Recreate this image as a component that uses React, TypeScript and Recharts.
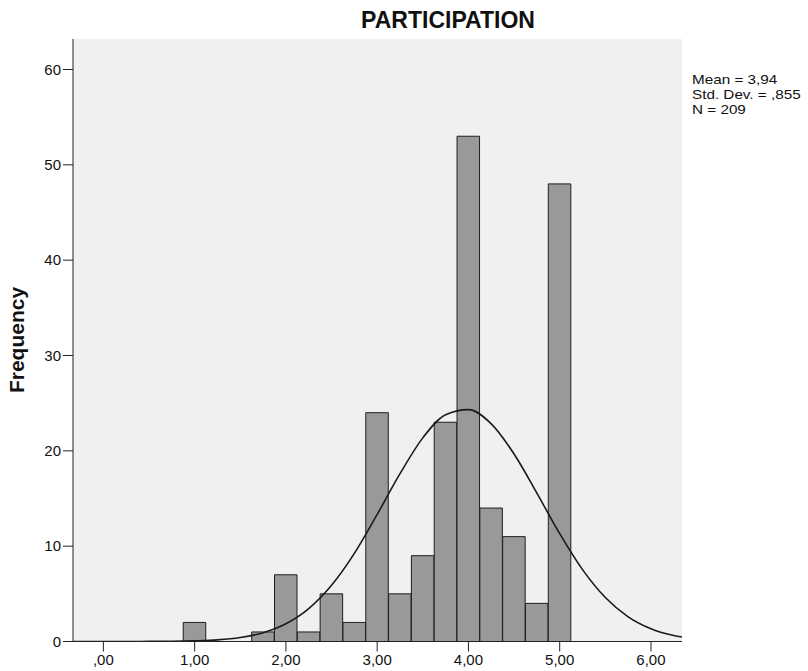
import { Bar, CartesianGrid, ComposedChart, Line, XAxis, YAxis } from 'recharts'

// histogram bins (width 0.25), centre of each bin and its count
const binCenters = [1.0, 1.75, 2.0, 2.25, 2.5, 2.75, 3.0, 3.25, 3.5, 3.75, 4.0, 4.25, 4.5, 4.75, 5.0]
const frequencies = [2, 1, 7, 1, 5, 2, 24, 5, 9, 23, 53, 14, 11, 4, 48]

// normal curve
const curveX = [-0.33, -0.25, 0, 0.25, 0.5, 0.75, 1.0, 1.25, 1.5, 1.75, 2.0, 2.25, 2.5, 2.75, 3.0, 3.25, 3.5, 3.75, 4.0, 4.25, 4.5, 4.75, 5.0, 5.25, 5.5, 5.75, 6.0, 6.25, 6.34]
const curveY = [0, 0, 0, 0, 0.01, 0.02, 0.07, 0.17, 0.42, 0.92, 1.86, 3.45, 5.9, 9.25, 13.33, 17.6, 21.36, 23.79, 24.32, 22.83, 19.67, 15.57, 11.31, 7.54, 4.61, 2.59, 1.34, 0.63, 0.47]

const xTicks = [0, 1, 2, 3, 4, 5, 6]
const yTicks = [0, 10, 20, 30, 40, 50, 60]
const stats = ['Mean = 3,94', 'Std. Dev. = ,855', 'N = 209']

const X_DOMAIN: [number, number] = [-0.333, 6.34]
const Y_DOMAIN: [number, number] = [0, 63.2]
const FONT = '"Liberation Sans", Arial, sans-serif'

const bars = binCenters.map((x, i) => ({ x, count: frequencies[i] }))
const curve = curveX.map((x, i) => ({ x, density: curveY[i] }))

const fmt = (v: number) => (v === 0 ? ',00' : `${v},00`)

export default function App() {
  return (
    <div style={{ position: 'relative', width: 808, height: 671, background: '#fff', fontFamily: FONT }}>
      <style>{'body{margin:0}'}</style>
      <div style={{ position: 'absolute', left: 448, top: 7, transform: 'translateX(-50%)', fontSize: 23, fontWeight: 'bold', color: '#111', whiteSpace: 'nowrap' }}>
        PARTICIPATION
      </div>
      <div style={{ position: 'absolute', left: 17, top: 340, transform: 'translate(-50%, -50%) rotate(-90deg)', fontSize: 21, fontWeight: 'bold', color: '#111', whiteSpace: 'nowrap' }}>
        Frequency
      </div>
      <div style={{ position: 'absolute', left: 692, top: 72, fontSize: 13.5, lineHeight: '15px', transform: 'scaleX(1.13)', transformOrigin: 'left top', color: '#111', whiteSpace: 'nowrap' }}>
        {stats.map((s) => (
          <div key={s}>{s}</div>
        ))}
      </div>
      <ComposedChart width={808} height={671} data={bars} margin={{ top: 39, right: 126, bottom: 0, left: 0 }}>
        <CartesianGrid fill="#f0f0f0" horizontal={false} vertical={false} />
        <XAxis
          dataKey="x"
          type="number"
          domain={X_DOMAIN}
          ticks={xTicks}
          tickFormatter={fmt}
          allowDataOverflow
          height={29.5}
          tickSize={10}
          tickMargin={3}
          stroke="#222"
          tick={{ fill: '#111', fontSize: 15, fontFamily: FONT }}
        />
        <XAxis xAxisId="curve" dataKey="x" type="number" domain={X_DOMAIN} allowDataOverflow hide />
        <XAxis xAxisId="top" orientation="top" type="number" domain={X_DOMAIN} height={0} tick={false} tickLine={false} stroke="#555" strokeWidth={2} />
        <YAxis
          type="number"
          domain={Y_DOMAIN}
          ticks={yTicks}
          allowDataOverflow
          width={73}
          tickSize={10}
          tickMargin={2}
          stroke="#222"
          tick={{ fill: '#111', fontSize: 15, fontFamily: FONT }}
        />
        <YAxis yAxisId="right" orientation="right" type="number" domain={Y_DOMAIN} width={0} tick={false} tickLine={false} stroke="#222" />
        <Bar dataKey="count" fill="#999999" stroke="#1e1e1e" strokeWidth={1} barSize={22.5} isAnimationActive={false} />
        <Line
          xAxisId="curve"
          data={curve}
          dataKey="density"
          type="monotone"
          stroke="#1a1a1a"
          strokeWidth={1.6}
          dot={false}
          activeDot={false}
          isAnimationActive={false}
        />
      </ComposedChart>
    </div>
  )
}
